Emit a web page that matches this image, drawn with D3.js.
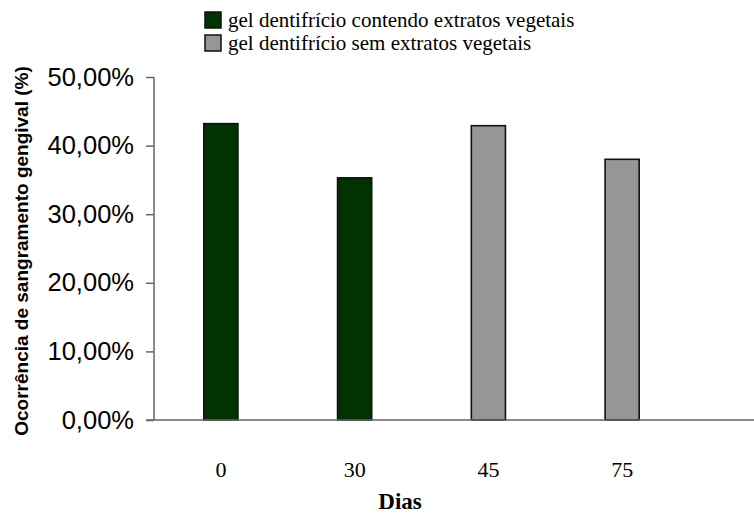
<!DOCTYPE html>
<html>
<head>
<meta charset="utf-8">
<script src="https://cdn.jsdelivr.net/npm/d3@7"></script>
<style>
  html, body { margin: 0; padding: 0; background: #fff; }
  svg { display: block; }
</style>
</head>
<body>
<svg id="chart" width="754" height="515"></svg>
<script>
// Occurrence of gingival bleeding by day of evaluation
const days = ["0", "30", "45", "75"];
const occurrence = [0.432, 0.353, 0.429, 0.380];
const group = ["com", "com", "sem", "sem"];
const seriesKeys = ["com", "sem"];
const seriesNames = [
  "gel dentifrício contendo extratos vegetais",
  "gel dentifrício sem extratos vegetais"
];
const yTicks = [0, 0.1, 0.2, 0.3, 0.4, 0.5];

const svg = d3.select("#chart");

const x = d3.scaleBand()
  .domain(days)
  .range([154, 689])
  .paddingInner(0.745)
  .paddingOuter(0.3725);

const y = d3.scaleLinear().domain([0, 0.5]).range([420, 77]);

const color = d3.scaleOrdinal().domain(seriesKeys).range(["#003300", "#969696"]);

const ptBR = d3.formatLocale({ decimal: ",", thousands: ".", grouping: [3], currency: ["R$", ""] });
const pct = ptBR.format(".2%");

const axisColor = "#666";

// y axis
const yAxis = svg.append("g")
  .attr("transform", "translate(154,0)")
  .call(d3.axisLeft(y).tickValues(yTicks).tickFormat(pct).tickSize(8).tickPadding(12));
yAxis.select(".domain").attr("stroke", axisColor).attr("stroke-width", 1.5).attr("d", "M0,420V77");
yAxis.selectAll(".tick line").attr("stroke", axisColor).attr("stroke-width", 1.5);
yAxis.selectAll(".tick text")
  .attr("font-family", "'Liberation Sans', Arial, sans-serif")
  .attr("font-size", 25.5)
  .attr("fill", "#000");

// bars
svg.append("g")
  .selectAll("rect")
  .data(days.map((d, i) => ({ day: d, v: occurrence[i], g: group[i] })))
  .join("rect")
  .attr("x", d => x(d.day))
  .attr("y", d => y(d.v))
  .attr("width", x.bandwidth())
  .attr("height", d => y(0) - y(d.v))
  .attr("fill", d => color(d.g))
  .attr("stroke", "#111")
  .attr("stroke-width", 1.6);

// x axis line
svg.append("line")
  .attr("x1", 146).attr("x2", 754)
  .attr("y1", y(0)).attr("y2", y(0))
  .attr("stroke", axisColor).attr("stroke-width", 1.5);

// x tick labels
svg.append("g")
  .selectAll("text")
  .data(days)
  .join("text")
  .attr("x", d => x(d) + x.bandwidth() / 2)
  .attr("y", 477)
  .attr("text-anchor", "middle")
  .attr("font-family", "'Liberation Serif', 'Times New Roman', serif")
  .attr("font-size", 22)
  .text(d => d);

// axis titles
svg.append("text")
  .attr("x", 400).attr("y", 509)
  .attr("text-anchor", "middle")
  .attr("font-family", "'Liberation Serif', 'Times New Roman', serif")
  .attr("font-weight", "bold")
  .attr("font-size", 23)
  .text("Dias");

svg.append("text")
  .attr("transform", "translate(28,251) rotate(-90)")
  .attr("text-anchor", "middle")
  .attr("font-family", "'Liberation Sans', Arial, sans-serif")
  .attr("font-weight", "bold")
  .attr("font-size", 19)
  .text("Ocorrência de sangramento gengival (%)");

// legend
const legend = svg.append("g").attr("transform", "translate(205,0)");
const item = legend.selectAll("g")
  .data(seriesKeys)
  .join("g")
  .attr("transform", (d, i) => `translate(0,${12 + i * 23})`);
item.append("rect")
  .attr("width", 16).attr("height", 16)
  .attr("fill", d => color(d))
  .attr("stroke", "#111").attr("stroke-width", 1.5);
item.append("text")
  .attr("x", 23).attr("y", 15)
  .attr("font-family", "'Liberation Serif', 'Times New Roman', serif")
  .attr("font-size", 21)
  .text((d, i) => seriesNames[i]);
</script>
</body>
</html>
